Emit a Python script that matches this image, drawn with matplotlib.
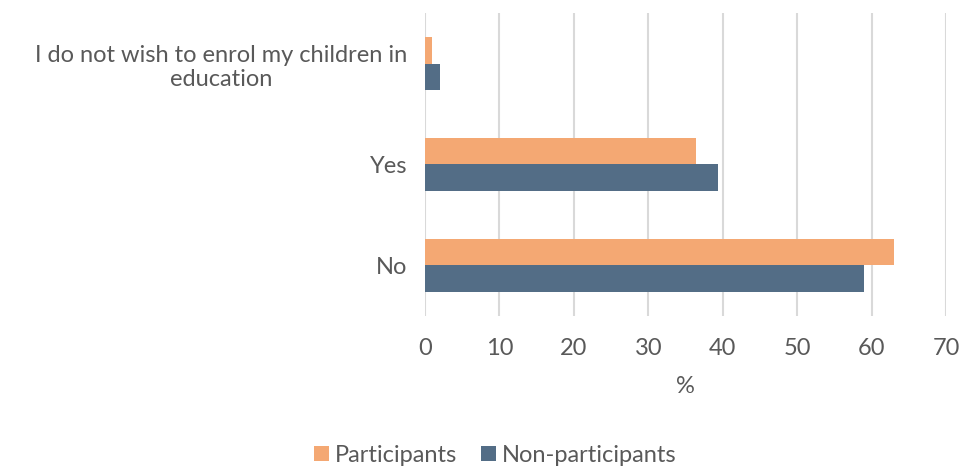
import matplotlib.pyplot as plt
import numpy as np

categories = ['No', 'Yes', 'I do not wish to enrol my children in\neducation']
participants = [63.0, 36.4, 0.9]
non_participants = [59.0, 39.3, 2.0]
series_names = ['Participants', 'Non-participants']
xticks = [0, 10, 20, 30, 40, 50, 60, 70]

plt.rcParams['font.family'] = ['Lato', 'DejaVu Sans']
text_col = '#595959'
fs = 17

fig = plt.figure(figsize=(9.62, 4.66), dpi=100)
ax = fig.add_axes([0.4418, 0.322, 0.5416, 0.650])

y = np.arange(len(categories))
h = 0.26
ax.barh(y + h / 2, participants, height=h, color='#F4A873', label=series_names[0], zorder=3)
ax.barh(y - h / 2, non_participants, height=h, color='#536D86', label=series_names[1], zorder=3)

ax.set_xlim(0, 70)
ax.set_ylim(-0.5, len(categories) - 0.5)
ax.set_xticks(xticks)
ax.set_yticks(y)
ax.set_yticklabels(categories, ha='right', multialignment='center')
ax.tick_params(axis='y', pad=13, length=0, labelsize=fs, colors=text_col)
ax.tick_params(axis='x', length=0, labelsize=fs, colors=text_col, pad=16)
ax.grid(axis='x', color='#D9D9D9', linewidth=1.5, zorder=0)
for s in ax.spines.values():
    s.set_visible(False)
ax.set_xlabel('%', fontsize=fs, color=text_col, labelpad=12)

fig.legend(loc='center', bbox_to_anchor=(0.515, 0.023), ncol=2, frameon=False,
           fontsize=fs, labelcolor=text_col, handlelength=0.65, handleheight=0.65,
           handletextpad=0.25, columnspacing=1.0)

fig.savefig('out.png', dpi=100)
